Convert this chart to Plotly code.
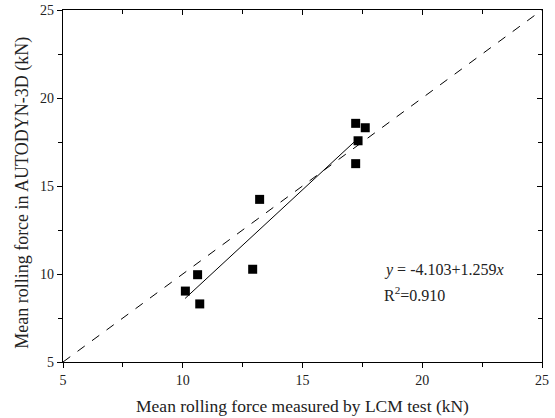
import plotly.graph_objects as go

# Measured (LCM test) vs simulated (AUTODYN-3D) mean rolling force, kN
lcm_force = [17.22, 17.62, 17.32, 17.22, 13.21, 12.92, 10.62, 10.11, 10.71]
autodyn_force = [18.56, 18.31, 17.57, 16.27, 14.24, 10.27, 9.96, 9.03, 8.30]

# Linear fit y = a + b*x
fit_a = -4.103
fit_b = 1.259
fit_x = [10.1, 17.35]
fit_y = [fit_a + fit_b * v for v in fit_x]

# 1:1 reference line
ref_line = [5, 25]

axis_range = [5, 25]
tick_vals = [5, 10, 15, 20, 25]

font = "Liberation Serif, Times New Roman, serif"

fig = go.Figure()
fig.add_trace(go.Scatter(x=ref_line, y=ref_line, mode="lines",
                         line=dict(color="black", width=1, dash="dash"),
                         showlegend=False, hoverinfo="skip"))
fig.add_trace(go.Scatter(x=fit_x, y=fit_y, mode="lines",
                         line=dict(color="black", width=1),
                         showlegend=False))
fig.add_trace(go.Scatter(x=lcm_force, y=autodyn_force, mode="markers",
                         marker=dict(symbol="square", size=9, color="black"),
                         showlegend=False))

common = dict(range=axis_range, tickvals=tick_vals, showgrid=False,
              zeroline=False, showline=True, linecolor="black", linewidth=1.2,
              tickcolor="black", tickwidth=1, ticklen=5, automargin=False,
              tickfont=dict(family=font, size=14, color="#222"))

fig.update_layout(
    width=555, height=418,
    margin=dict(l=63, r=13, t=10, b=56),
    paper_bgcolor="white", plot_bgcolor="white",
    font=dict(family=font, color="#222"),
    xaxis=dict(**common, ticks="outside",
               minor=dict(dtick=2.5, ticks="outside", ticklen=4, tickcolor="black"),
               title=dict(text="Mean rolling force measured by LCM test (kN)",
                          font=dict(family=font, size=17.5), standoff=12)),
    yaxis=dict(**common, ticks="outside",
               minor=dict(dtick=2.5, ticks="outside", ticklen=4, tickcolor="black")),
    xaxis2=dict(**common, overlaying="x", side="top", ticks="inside",
                showticklabels=False, matches="x",
                minor=dict(dtick=2.5, ticks="inside", ticklen=4, tickcolor="black")),
    yaxis2=dict(**common, overlaying="y", side="right", ticks="inside",
                showticklabels=False, matches="y",
                minor=dict(dtick=2.5, ticks="inside", ticklen=4, tickcolor="black")),
)

# invisible trace to activate the mirrored axes
fig.add_trace(go.Scatter(x=[None], y=[None], xaxis="x2", yaxis="y2",
                         showlegend=False, hoverinfo="skip"))

# y-axis title, placed as a rotated annotation
fig.add_annotation(x=-0.086, y=0.48, xref="paper", yref="paper",
                   xanchor="center", yanchor="middle", textangle=-90,
                   showarrow=False, text="Mean rolling force in AUTODYN-3D (kN)",
                   font=dict(family=font, size=18, color="#222"))

fig.add_annotation(x=18.3, y=10.25, xref="x", yref="y", xanchor="left",
                   showarrow=False,
                   text=f"<i>y</i> = {fit_a:.3f}+{fit_b:.3f}<i>x</i>",
                   font=dict(family=font, size=16, color="#222"))
fig.add_annotation(x=18.3, y=8.85, xref="x", yref="y", xanchor="left",
                   showarrow=False, text="R<sup>2</sup>=0.910",
                   font=dict(family=font, size=16, color="#222"))

fig.write_html("out.html")
